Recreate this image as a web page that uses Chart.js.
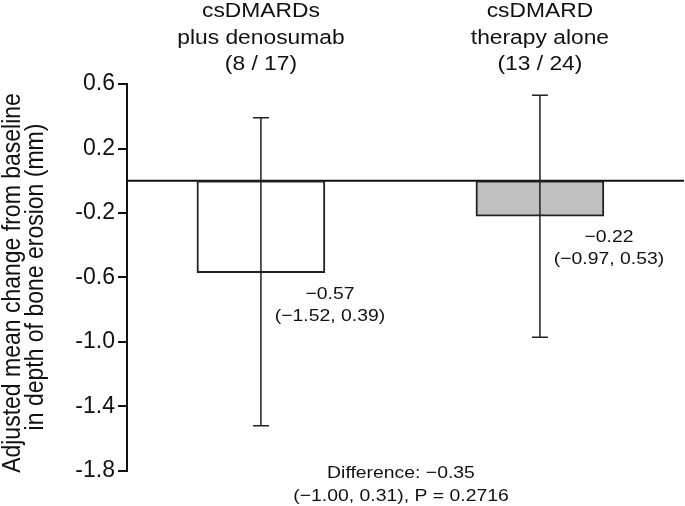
<!DOCTYPE html>
<html>
<head>
<meta charset="utf-8">
<script src="https://cdn.jsdelivr.net/npm/chart.js@4.4.1/dist/chart.umd.min.js"></script>
<style>
html, body { margin: 0; padding: 0; background: #fff; }
#wrap { width: 685px; height: 506px; }
</style>
</head>
<body>
<div id="wrap"><canvas id="myChart" width="685" height="506"></canvas></div>
<script>
// data
var groups = [['csDMARDs', 'plus denosumab', '(8 / 17)'], ['csDMARD', 'therapy alone', '(13 / 24)']];
var groupPos = [1, 2];
var means = [-0.57, -0.22];
var lower = [-1.52, -0.97];
var upper = [0.39, 0.53];
var barColors = ['#ffffff', '#c0c0c0'];
var yTicks = [0.6, 0.2, -0.2, -0.6, -1.0, -1.4, -1.8];
var diffText = ['Difference: \u22120.35', '(\u22121.00, 0.31), P = 0.2716'];
var yTitle = ['Adjusted mean change from baseline', 'in depth of bone erosion (mm)'];

var FONT = "'Liberation Sans', Arial, sans-serif";
var SX = 1.14; // the original figure text is a bit wider than normal

function fmt(v) { return v.toFixed(2).replace('-', '\u2212'); }

function stretchText(ctx, txt, x, y, size) {
    ctx.save();
    ctx.translate(x, y);
    ctx.scale(SX, 1);
    ctx.font = size + 'px ' + FONT;
    ctx.textAlign = 'center';
    ctx.textBaseline = 'alphabetic';
    ctx.fillText(txt, 0, 0);
    ctx.restore();
}

var extras = {
    id: 'extras',
    beforeDatasetsDraw: function(chart) {
        var ctx = chart.ctx, y = chart.scales.y, area = chart.chartArea;
        var y0 = y.getPixelForValue(0);
        ctx.save();
        ctx.strokeStyle = '#111';
        ctx.lineWidth = 2;
        ctx.beginPath();
        ctx.moveTo(area.left, y0);
        ctx.lineTo(area.right - 1, y0);
        ctx.stroke();
        ctx.restore();
    },
    afterDatasetsDraw: function(chart) {
        var ctx = chart.ctx, y = chart.scales.y, area = chart.chartArea;
        var meta = chart.getDatasetMeta(0);
        ctx.save();
        // error bars
        ctx.strokeStyle = '#222';
        ctx.lineWidth = 1.5;
        meta.data.forEach(function(bar, i) {
            var x = bar.x;
            var yTop = y.getPixelForValue(upper[i]);
            var yBot = y.getPixelForValue(lower[i]);
            ctx.beginPath();
            ctx.moveTo(x, yTop); ctx.lineTo(x, yBot);
            ctx.moveTo(x - 8, yTop); ctx.lineTo(x + 8, yTop);
            ctx.moveTo(x - 8, yBot); ctx.lineTo(x + 8, yBot);
            ctx.stroke();
        });
        ctx.fillStyle = '#111';
        meta.data.forEach(function(bar, i) {
            groups[i].forEach(function(line, k) {
                stretchText(ctx, line, bar.x, 17 + k * 26.5, 20);
            });
            stretchText(ctx, fmt(means[i]), bar.x + 69, bar.y + 26, 17);
            stretchText(ctx, '(' + fmt(lower[i]) + ', ' + fmt(upper[i]) + ')', bar.x + 69, bar.y + 48, 17);
        });
        stretchText(ctx, diffText[0], 401, area.bottom + 6.5, 17);
        stretchText(ctx, diffText[1], 401, area.bottom + 29.5, 17);

        // rotated y title
        [[20, 283], [43, 277]].forEach(function(p, k) {
            ctx.save();
            ctx.translate(p[0], p[1]);
            ctx.rotate(-Math.PI / 2);
            ctx.scale(1, SX);
            ctx.font = '23px ' + FONT;
            ctx.textAlign = 'center';
            ctx.textBaseline = 'alphabetic';
            ctx.fillText(yTitle[k], 0, 0);
            ctx.restore();
        });
        ctx.restore();
    }
};

var ctx = document.getElementById('myChart').getContext('2d');
var myChart = new Chart(ctx, {
    type: 'bar',
    data: {
        datasets: [{
            data: means.map(function(m, i) { return { x: groupPos[i], y: m }; }),
            backgroundColor: barColors,
            borderColor: '#222',
            borderWidth: 2,
            borderSkipped: false,
            barThickness: 128
        }]
    },
    options: {
        responsive: false,
        animation: false,
        layout: { padding: { top: 84, bottom: 35, left: 0, right: 0 } },
        plugins: { legend: { display: false }, tooltip: { enabled: false } },
        scales: {
            x: { type: 'linear', min: 0.52, max: 2.52, offset: false, display: false },
            y: {
                min: -1.8,
                max: 0.6,
                afterBuildTicks: function(s) { s.ticks = yTicks.map(function(v) { return { value: v }; }); },
                afterFit: function(s) { s.width = 127; },
                border: { display: true, color: '#111', width: 2 },
                grid: { drawOnChartArea: false, color: '#111', tickColor: '#111', tickLength: 9, lineWidth: 2 },
                ticks: {
                    color: '#111',
                    padding: 3,
                    font: { family: FONT, size: 23 },
                    callback: function(v) { return v.toFixed(1); }
                }
            }
        }
    },
    plugins: [extras]
});
</script>
</body>
</html>
